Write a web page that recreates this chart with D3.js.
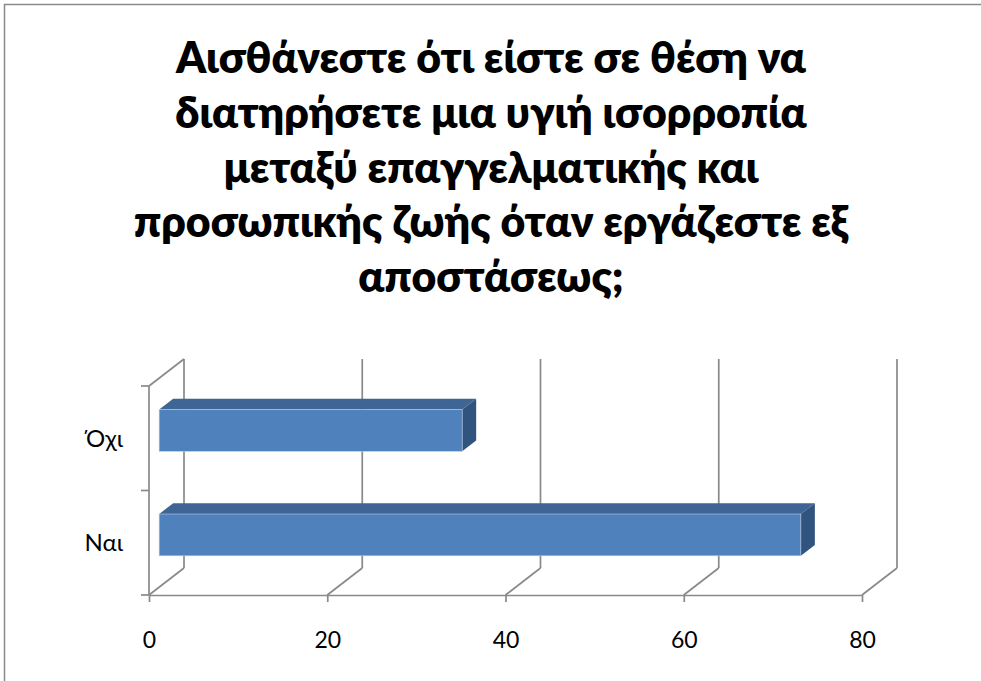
<!DOCTYPE html>
<html>
<head>
<meta charset="utf-8">
<script src="https://cdn.jsdelivr.net/npm/d3@7"></script>
<style>
  html, body { margin: 0; padding: 0; background: #ffffff; }
  svg { display: block; }
</style>
</head>
<body>
<svg id="chart" width="981" height="681"></svg>
<script>
// Survey answers and counts
const categories = ["Ναι", "Όχι"];
const values = [72, 34];
const tickValues = [0, 20, 40, 60, 80];
const titleLines = [
  "Αισθάνεστε ότι είστε σε θέση να",
  "διατηρήσετε μια υγιή ισορροπία",
  "μεταξύ επαγγελματικής και",
  "προσωπικής ζωής όταν εργάζεστε εξ",
  "αποστάσεως;"
];

const W = 981, H = 681;
const svg = d3.select("#chart");
const gridColor = "#898989";
const textFont = "Lato, 'Open Sans', 'Noto Sans', sans-serif";

// Outer chart frame
svg.append("rect")
  .attr("x", 4.5).attr("y", 4.5)
  .attr("width", 1000).attr("height", 720)
  .attr("fill", "#ffffff")
  .attr("stroke", "#8a8a8a").attr("stroke-width", 1.5);

// Title, centred, sized so the first line spans its usual width
const title = svg.append("g");
const titleText = title.selectAll("text")
  .data(titleLines)
  .join("text")
  .attr("x", 491)
  .attr("y", (d, i) => 73 + i * 54.75)
  .attr("text-anchor", "middle")
  .attr("font-family", textFont)
  .attr("font-weight", 800)
  .attr("font-size", 40)
  .attr("fill", "#000000")
  .text(d => d);
const w0 = titleText.node().getComputedTextLength();
const fs = Math.max(34, Math.min(46, 40 * 630 / w0));
titleText.attr("font-size", fs);

// Plot geometry: front plane and the depth offset of the back wall
const x = d3.scaleLinear().domain([0, 80]).range([149, 862]);
const y = d3.scaleBand()
  .domain(categories.slice().reverse())
  .range([386, 595])
  .paddingInner(0.6)
  .paddingOuter(0.3);
const depth = { dx: 35, dy: -27 };
const proj = (px, py, f) => [px + f * depth.dx, py + f * depth.dy];
const barFront = 0.29, barBack = 0.69;
const yTop = y.range()[0], yBottom = y.range()[1];

const walls = svg.append("g")
  .attr("fill", "none")
  .attr("stroke", gridColor)
  .attr("stroke-width", 1.7);

// Back-wall gridlines and floor diagonals
tickValues.forEach(t => {
  const a = proj(x(t), yTop, 1), b = proj(x(t), yBottom, 1);
  walls.append("line").attr("x1", a[0]).attr("y1", a[1]).attr("x2", b[0]).attr("y2", b[1]);
  walls.append("line").attr("x1", x(t)).attr("y1", yBottom).attr("x2", b[0]).attr("y2", b[1]);
});

// Left wall: front vertical edge and top diagonal
const lt = proj(x(0), yTop, 1);
walls.append("line").attr("x1", x(0)).attr("y1", yTop).attr("x2", x(0)).attr("y2", yBottom);
walls.append("line").attr("x1", x(0)).attr("y1", yTop).attr("x2", lt[0]).attr("y2", lt[1]);

// Category tick marks at band boundaries
d3.range(categories.length + 1).forEach(i => {
  const yy = yTop + i * y.step();
  walls.append("line").attr("x1", x(0) - 8).attr("y1", yy).attr("x2", x(0)).attr("y2", yy);
});

// 3D bars
const bars = svg.append("g");
const data = categories.map((c, i) => ({ c, v: values[i] }));
const pts = arr => arr.map(p => p.join(",")).join(" ");
data.forEach(d => {
  const y0 = y(d.c), y1 = y(d.c) + y.bandwidth();
  const x0 = x(0), x1 = x(d.v);
  // top face
  bars.append("polygon")
    .attr("points", pts([proj(x0, y0, barFront), proj(x1, y0, barFront), proj(x1, y0, barBack), proj(x0, y0, barBack)]))
    .attr("fill", "#3e6593");
  // right side face
  bars.append("polygon")
    .attr("points", pts([proj(x1, y0, barFront), proj(x1, y0, barBack), proj(x1, y1, barBack), proj(x1, y1, barFront)]))
    .attr("fill", "#31547f");
  // front face
  const f = proj(x0, y0, barFront);
  bars.append("rect")
    .attr("x", f[0]).attr("y", f[1])
    .attr("width", x1 - x0).attr("height", y.bandwidth())
    .attr("fill", "#4f81bd")
    .attr("stroke", "#b9cde5").attr("stroke-width", 0.6);
});

// Value axis along the front edge of the floor
const xAxis = svg.append("g")
  .attr("transform", `translate(0,${yBottom})`)
  .call(d3.axisBottom(x).tickValues(tickValues).tickSize(7).tickSizeOuter(0).tickPadding(30));
xAxis.select(".domain").attr("stroke", gridColor).attr("stroke-width", 1.7);
xAxis.selectAll(".tick line").attr("stroke", gridColor).attr("stroke-width", 1.7);
xAxis.selectAll(".tick text")
  .attr("font-family", textFont)
  .attr("font-size", 23)
  .attr("fill", "#000000");

// Category labels
const yAxis = svg.append("g")
  .attr("transform", `translate(${x(0)},0)`)
  .call(d3.axisLeft(y).tickSize(0).tickPadding(26));
yAxis.select(".domain").remove();
yAxis.selectAll(".tick text")
  .attr("font-family", textFont)
  .attr("font-size", 24)
  .attr("dy", "0.36em")
  .attr("fill", "#000000");
</script>
</body>
</html>
